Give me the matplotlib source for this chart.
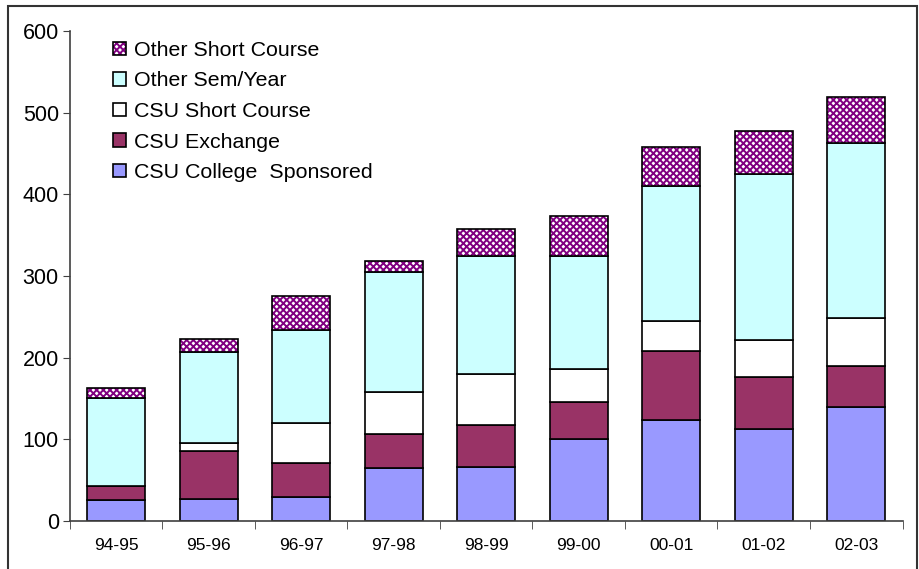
import matplotlib.pyplot as plt
import numpy as np
from matplotlib.patches import Rectangle

plt.rcParams['font.family'] = ['Liberation Sans', 'DejaVu Sans']
plt.rcParams['hatch.linewidth'] = 1.4

years = ["94-95", "95-96", "96-97", "97-98", "98-99", "99-00", "00-01", "01-02", "02-03"]
college = [26, 27, 29, 65, 66, 100, 124, 113, 139]
exchange = [17, 59, 42, 41, 52, 46, 84, 63, 51]
csu_short = [0, 9, 49, 52, 62, 40, 37, 46, 59]
other_sem = [107, 112, 114, 147, 145, 139, 165, 203, 214]
other_short = [13, 16, 41, 14, 32, 49, 48, 52, 56]

series = [
    ("CSU College  Sponsored", college, "#9999FF", None),
    ("CSU Exchange", exchange, "#993366", None),
    ("CSU Short Course", csu_short, "#FFFFFF", None),
    ("Other Sem/Year", other_sem, "#CCFFFF", None),
    ("Other Short Course", other_short, "#FFFFFF", "xxxxx"),
]

fig = plt.figure(figsize=(9.2, 5.69), dpi=100)
ax = fig.add_axes([0.076, 0.0844, 0.905, 0.861])

x = np.arange(len(years))
bottom = np.zeros(len(years))
for name, vals, color, hatch in series:
    ax.bar(x, vals, 0.63, bottom=bottom, color=color, edgecolor="black",
           linewidth=1.2, hatch=hatch, label=name)
    bottom += np.array(vals)

# hatch colour for the checkered series, black outline drawn on top
for p in ax.containers[-1]:
    p.set_edgecolor("#800080")
    p.set_linewidth(0)
ax.bar(x, other_short, 0.63, bottom=bottom - np.array(other_short),
       fill=False, edgecolor="black", linewidth=1.2)

ax.set_xlim(-0.5, len(years) - 0.5)
ax.set_ylim(0, 600)
ax.set_yticks(range(0, 601, 100))
ax.set_xticks(x)
ax.set_xticklabels(years, fontsize=12.5)
ax.set_xticks(np.arange(-0.5, len(years), 1), minor=True)
ax.tick_params(axis="x", which="major", length=0, pad=12)
ax.tick_params(axis="x", which="minor", length=6, direction="out", color="#404040")
ax.tick_params(axis="y", labelsize=15.5, length=5, color="#404040", pad=3)
for s in ["top", "right"]:
    ax.spines[s].set_visible(False)
for s in ["left", "bottom"]:
    ax.spines[s].set_color("#404040")
    ax.spines[s].set_linewidth(1.2)

handles, labels = ax.get_legend_handles_labels()
# legend swatch for the hatched series
hatched = Rectangle((0, 0), 1, 1, facecolor="white", edgecolor="#800080",
                    hatch="xxxxx", linewidth=0)
frame = Rectangle((0, 0), 1, 1, fill=False, edgecolor="black", linewidth=1.2)
handles[-1] = (hatched, frame)
leg = ax.legend(handles[::-1], labels[::-1], loc="upper left",
                bbox_to_anchor=(0.052, 0.98), frameon=False, fontsize=15.4,
                handlelength=0.6, handleheight=0.6, handletextpad=0.35,
                labelspacing=0.54, borderpad=0, borderaxespad=0)

fig.add_artist(Rectangle((8 / 920, -0.02), 909 / 920, 1.02 - 6 / 569,
                         transform=fig.transFigure, fill=False,
                         edgecolor="#333333", linewidth=1.5))

fig.savefig("out.png", dpi=100)
